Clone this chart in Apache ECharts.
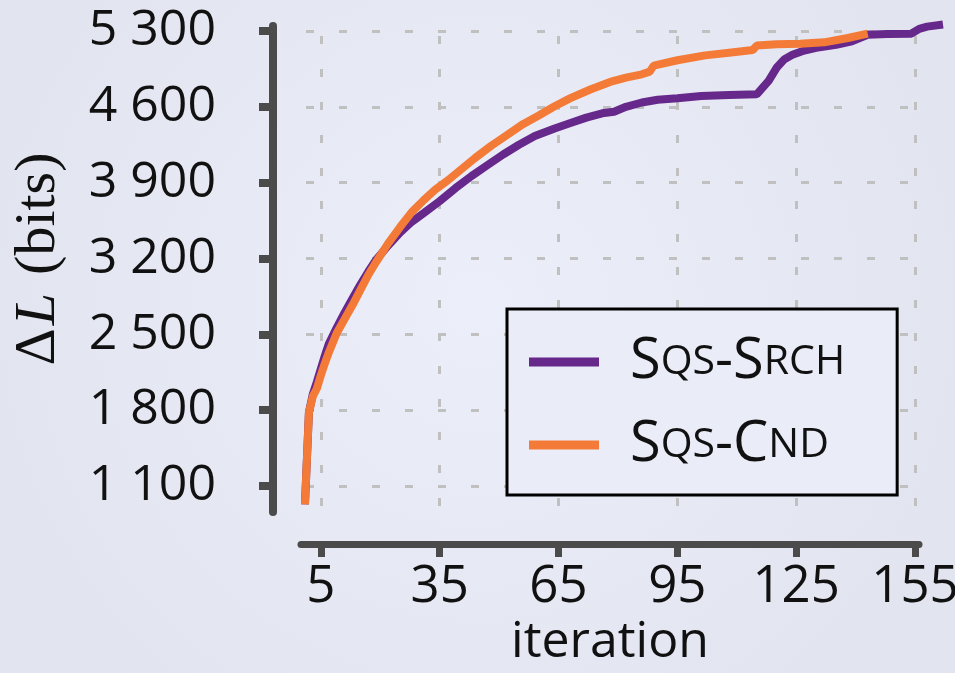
<!DOCTYPE html>
<html>
<head>
<meta charset="utf-8">
<script src="https://cdn.jsdelivr.net/npm/echarts@6/dist/echarts.min.js"></script>
<style>
  html, body { margin: 0; padding: 0; }
  #chart { width: 955px; height: 673px; }
</style>
</head>
<body>
<div id="chart"></div>
<script>
// values (iteration, delta L in bits)
var srchIter = [1, 2, 3, 4, 5, 6, 7, 9, 11, 13, 15, 17, 19, 22, 25, 28, 31, 35, 39, 43, 47, 51, 55, 59, 64, 68, 72, 76, 79, 82, 86, 90, 95, 101, 108, 115, 118, 120, 122, 124, 127, 130, 135, 139, 143, 148, 154, 156, 158, 162];
var srchVal = [930, 1780, 1950, 2060, 2180, 2300, 2410, 2560, 2700, 2830, 2960, 3080, 3190, 3320, 3440, 3540, 3620, 3730, 3850, 3960, 4060, 4160, 4250, 4330, 4400, 4450, 4500, 4540, 4555, 4600, 4640, 4665, 4680, 4700, 4710, 4715, 4840, 4960, 5040, 5080, 5120, 5145, 5172, 5205, 5265, 5273, 5275, 5320, 5340, 5360];

var cndIter = [1, 2, 3, 4, 5, 6, 7, 9, 11, 13, 15, 17, 19, 22, 25, 28, 31, 34, 37, 40, 44, 48, 52, 56, 60, 64, 68, 73, 78, 82, 86, 88, 89, 95, 102, 108, 114, 115, 120, 126, 132, 138, 143];
var cndVal = [930, 1780, 1930, 2000, 2120, 2230, 2330, 2510, 2640, 2770, 2910, 3050, 3170, 3340, 3490, 3630, 3740, 3840, 3920, 4010, 4130, 4240, 4340, 4440, 4520, 4605, 4680, 4760, 4830, 4870, 4900, 4925, 4980, 5030, 5075, 5100, 5125, 5165, 5178, 5182, 5195, 5235, 5275];

var xTicks = [5, 35, 65, 95, 125, 155];
var yTicks = [1100, 1800, 2500, 3200, 3900, 4600, 5300];

var names = ['Sqs-Srch', 'Sqs-Cnd'];
var colors = ['#66288b', '#f47b37'];

function pairs(xs, ys) {
  return xs.map(function (x, i) { return [x, ys[i]]; });
}

// uppercase letters stay big, lowercase become small caps
function smallCaps(name) {
  var out = '{g|}';
  for (var i = 0; i < name.length; i++) {
    var ch = name[i];
    if (ch >= 'a' && ch <= 'z') out += '{s|' + ch.toUpperCase() + '}';
    else out += '{c|' + ch + '}';
  }
  return out;
}

var axisColor = '#4b4b4b';
var gridLine = { color: '#c0c0c0', width: 3, type: [8, 25] };

var chart = echarts.init(document.getElementById('chart'));

var option = {
  backgroundColor: {
    type: 'radial', x: 0.5, y: 0.45, r: 0.75,
    colorStops: [
      { offset: 0, color: '#eceffa' },
      { offset: 1, color: '#e2e5ef' }
    ]
  },
  animation: false,
  textStyle: { fontFamily: 'Open Sans' },
  grid: [
    // data area (curves run a bit past the trimmed x spine)
    { left: 301, right: 12, top: 26, bottom: 161, outerBoundsMode: 'none', containLabel: false },
    // frame: spines, ticks, labels, grid lines
    { left: 301, right: 36, top: 26, bottom: 161, outerBoundsMode: 'none', containLabel: false }
  ],
  legend: {
    left: 507,
    top: 309,
    orient: 'vertical',
    selectedMode: false,
    icon: 'rect',
    itemWidth: 70,
    itemHeight: 9,
    itemGap: 27,
    padding: [25, 52, 22, 22],
    borderColor: '#000',
    borderWidth: 3,
    borderRadius: 0,
    backgroundColor: '#eaedf8',
    data: names,
    formatter: smallCaps,
    textStyle: {
      color: '#111',
      rich: {
        g: { width: 26 },
        c: { fontSize: 56, fontFamily: 'Open Sans' },
        s: { fontSize: 41, fontFamily: 'Open Sans' }
      }
    }
  },
  xAxis: [
    {
      gridIndex: 0,
      type: 'value',
      min: 0,
      max: 162,
      show: false
    },
    {
      gridIndex: 1,
      type: 'value',
      min: 0,
      max: 156,
      offset: 32,
      name: 'iteration',
      nameLocation: 'middle',
      nameGap: 72,
      nameTextStyle: { fontSize: 50, color: '#111' },
      axisLine: { onZero: false, lineStyle: { color: axisColor, width: 7 } },
      axisTick: { inside: false, length: 13, customValues: xTicks, lineStyle: { color: axisColor, width: 7 } },
      axisLabel: { customValues: xTicks, fontSize: 51, color: '#111', margin: 18 },
      splitLine: { show: true, lineStyle: Object.assign({ dashOffset: 23 }, gridLine) }
    }
  ],
  yAxis: [
    {
      gridIndex: 0,
      type: 'value',
      min: 860,
      max: 5346,
      show: false
    },
    {
      gridIndex: 1,
      type: 'value',
      min: 860,
      max: 5346,
      offset: 28,
      name: '{d|\u0394}{l|L}{sp|}{b|(bits)}',
      nameLocation: 'middle',
      nameRotate: 90,
      nameGap: 205,
      nameTextStyle: {
        color: '#111',
        padding: [0, 0, 0, 20],
        rich: {
          d: { fontFamily: 'Liberation Serif', fontSize: 58 },
          l: { fontFamily: 'Liberation Serif', fontStyle: 'italic', fontSize: 58, padding: [0, 0, 0, 3] },
          sp: { width: 18 },
          b: { fontFamily: 'Liberation Serif', fontSize: 58 }
        }
      },
      axisLine: { show: true, onZero: false, lineStyle: { color: axisColor, width: 8 } },
      axisTick: { show: true, inside: false, length: 14, customValues: yTicks, lineStyle: { color: axisColor, width: 8 } },
      axisLabel: {
        customValues: yTicks,
        fontSize: 50,
        color: '#111',
        margin: 57,
        formatter: function (v) {
          var s = String(v);
          return s.slice(0, -3) + ' ' + s.slice(-3);
        }
      },
      splitLine: { show: true, lineStyle: Object.assign({ dashOffset: 28 }, gridLine) }
    }
  ],
  series: [
    {
      name: names[0],
      type: 'line',
      xAxisIndex: 0,
      yAxisIndex: 0,
      data: pairs(srchIter, srchVal),
      showSymbol: false,
      clip: false,
      color: colors[0],
      lineStyle: { width: 8, color: colors[0] }
    },
    {
      name: names[1],
      type: 'line',
      xAxisIndex: 0,
      yAxisIndex: 0,
      data: pairs(cndIter, cndVal),
      showSymbol: false,
      clip: false,
      color: colors[1],
      lineStyle: { width: 8, color: colors[1] }
    }
  ]
};

chart.setOption(option);
</script>
</body>
</html>
